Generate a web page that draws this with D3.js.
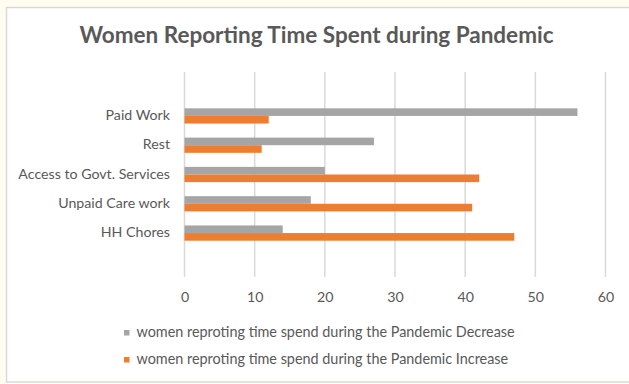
<!DOCTYPE html>
<html>
<head>
<meta charset="utf-8">
<script src="https://cdn.jsdelivr.net/npm/d3@7/dist/d3.min.js"></script>
<style>
  html, body { margin: 0; padding: 0; background: #fffdf0; }
  svg { display: block; }
  text { font-family: Lato, "Noto Sans", sans-serif; fill: #595959; }
</style>
</head>
<body>
<svg id="chart" width="629" height="384"></svg>
<script>
const categories = ["Paid Work", "Rest", "Access to Govt. Services", "Unpaid Care work", "HH Chores"];
const seriesNames = [
  "women reproting time spend during the Pandemic Decrease",
  "women reproting time spend during the Pandemic Increase"
];
const decreaseValues = [56, 27, 20, 18, 14];
const increaseValues = [12, 11, 42, 41, 47];
const xTicks = [0, 10, 20, 30, 40, 50, 60];
const colors = ["#a5a5a5", "#ed7d31"];
const title = "Women Reporting Time Spent during Pandemic";

const svg = d3.select("#chart");

// chart area frame
svg.append("rect")
  .attr("x", 6.5).attr("y", 7.5)
  .attr("width", 640).attr("height", 374.5)
  .attr("fill", "#ffffff")
  .attr("stroke", "#d9d9d9").attr("stroke-width", 1.5);

svg.append("text")
  .attr("x", 316.5).attr("y", 43)
  .attr("text-anchor", "middle")
  .style("font-size", "22.5px").style("font-weight", "bold")
  .text(title);

const x = d3.scaleLinear().domain([0, 60]).range([184.5, 605.5]);
const y0 = d3.scaleBand().domain(categories).range([72, 277]).paddingInner(0).paddingOuter(1);
const series = [0, 1];
const y1 = d3.scaleBand().domain(series)
  .range([y0.bandwidth() * 0.24, y0.bandwidth() * 0.76]).padding(0);

// gridlines
const grid = svg.append("g");
grid.selectAll("line").data(xTicks).join("line")
  .attr("x1", d => x(d)).attr("x2", d => x(d))
  .attr("y1", 72).attr("y2", 277)
  .attr("stroke", "#d9d9d9").attr("stroke-width", 1.5);

// bars
const data = categories.map((c, i) => ({ c, vals: [decreaseValues[i], increaseValues[i]] }));
const groups = svg.append("g").selectAll("g").data(data).join("g")
  .attr("transform", d => `translate(0,${y0(d.c)})`);
groups.selectAll("rect").data(d => d.vals.map((v, s) => ({ v, s }))).join("rect")
  .attr("x", x(0))
  .attr("y", d => y1(d.s))
  .attr("width", d => x(d.v) - x(0))
  .attr("height", y1.bandwidth())
  .attr("fill", d => colors[d.s]);

// y axis labels
const yAxis = d3.axisLeft(y0).tickSize(0).tickPadding(0);
svg.append("g").attr("transform", "translate(170,0)").call(yAxis)
  .call(g => g.select(".domain").remove())
  .selectAll("text").style("font-size", "14.2px").attr("fill", "#595959")
  .attr("dy", "0.3em");

// x axis labels
const xAxis = d3.axisBottom(x).tickValues(xTicks).tickSize(0).tickPadding(0);
svg.append("g").attr("transform", "translate(0,292)").call(xAxis)
  .call(g => g.select(".domain").remove())
  .selectAll("text").style("font-size", "14.2px").attr("fill", "#595959");

// legend
const legend = svg.append("g").selectAll("g").data(seriesNames).join("g")
  .attr("transform", (d, i) => `translate(124,${332 + i * 27})`);
legend.append("rect").attr("x", 0).attr("y", -2).attr("width", 5.5).attr("height", 5.5)
  .attr("fill", (d, i) => colors[i]);
legend.append("text").attr("x", 12.5).attr("y", 0).attr("dy", "0.35em")
  .style("font-size", "14.4px").text(d => d);
</script>
</body>
</html>
